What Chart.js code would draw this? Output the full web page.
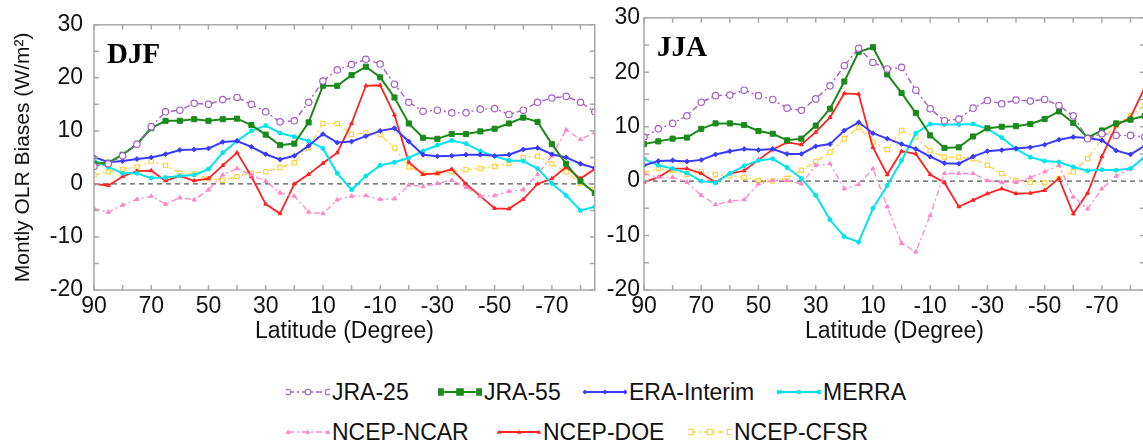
<!DOCTYPE html>
<html>
<head>
<meta charset="utf-8">
<script src="https://cdn.jsdelivr.net/npm/chart.js@4.4.1/dist/chart.umd.min.js"></script>
<style>
body { margin: 0; background: #fff; }
#wrap { position: relative; width: 1143px; height: 444px; overflow: hidden; font-family: "Liberation Sans", Arial, sans-serif; }
canvas { position: absolute; top: 0; }
#cDJF { left: 0; }
#cJJA { left: 560px; }
.item { position: absolute; height: 30px; display: flex; align-items: center; font-size: 23px; color: #111; white-space: nowrap; }
.item svg { margin-right: 2px; }
</style>
</head>
<body>
<div id="wrap">
  <canvas id="cDJF" width="600" height="350"></canvas>
  <canvas id="cJJA" width="590" height="350"></canvas>
</div>
<script>
// latitude bins, 90N -> 85S
const lats = [90, 85, 80, 75, 70, 65, 60, 55, 50, 45, 40, 35, 30, 25, 20, 15, 10, 5,
              0, -5, -10, -15, -20, -25, -30, -35, -40, -45, -50, -55, -60, -65, -70, -75, -80, -85];
const xTickLabels = [90, 70, 50, 30, 10, -10, -30, -50, -70];
const xTickMarks = [90, 80, 70, 60, 50, 40, 30, 20, 10, 0, -10, -20, -30, -40, -50, -60, -70, -80];
const yTickMarks = [-20, -15, -10, -5, 0, 5, 10, 15, 20, 25, 30];

// DJF
const jra25Djf = [3.3, 3.8, 5.3, 7.5, 10.8, 13.6, 13.9, 15.2, 15.0, 15.9, 16.3, 15.0, 13.6, 11.7, 11.9, 15.4, 19.4, 21.5,
                  22.5, 23.5, 22.6, 18.8, 15.4, 13.7, 13.9, 13.4, 13.4, 14.1, 14.2, 13.1, 13.9, 15.4, 16.2, 16.5, 15.4, 13.6];
const jra55Djf = [3.8, 4.0, 5.5, 7.5, 10.5, 11.9, 11.9, 12.2, 11.9, 12.2, 12.3, 11.1, 9.3, 7.3, 7.6, 11.6, 18.5, 18.5,
                  20.5, 22.1, 20.1, 16.3, 11.4, 8.7, 8.5, 9.4, 9.4, 9.9, 10.4, 11.4, 12.5, 11.7, 7.5, 3.8, 0.5, -1.7];
const eraDjf   = [5.1, 4.1, 4.3, 4.7, 5.0, 5.6, 6.4, 6.5, 6.7, 7.9, 8.1, 7.0, 5.6, 4.6, 5.3, 7.2, 9.4, 7.8,
                  8.0, 9.0, 10.0, 10.5, 8.0, 5.5, 5.2, 5.3, 5.5, 5.5, 5.3, 5.5, 6.5, 6.8, 5.6, 5.0, 3.8, 3.0];
const merraDjf = [4.5, 3.2, 2.0, 2.0, 1.1, 1.2, 1.5, 1.7, 2.8, 5.9, 8.1, 10.0, 11.0, 9.6, 8.9, 8.1, 6.7, 2.0,
                  -1.1, 1.5, 3.5, 4.1, 4.9, 6.2, 7.3, 8.2, 7.6, 6.2, 5.2, 4.4, 4.3, 2.9, 0.1, -2.2, -5.0, -4.3];
const ncarDjf  = [-4.6, -5.3, -4.0, -2.9, -2.3, -3.8, -2.6, -3.0, -1.1, 1.7, 2.9, 1.7, 0.5, -1.7, -2.3, -5.3, -5.6, -3.0,
                  -2.3, -2.2, -2.9, -2.8, -0.2, -0.5, 0.1, 0.7, -0.6, -2.3, -2.2, -1.4, -1.1, 1.8, 5.3, 10.2, 8.4, 9.7];
const doeDjf   = [0, -0.3, 1.4, 2.4, 2.5, 0.6, 1.5, 0.6, 1.0, 3.5, 5.9, 1.4, -3.8, -5.6, 0, 1.8, 3.9, 5.9,
                  11.4, 18.5, 18.6, 13.0, 4.1, 1.8, 2.0, 2.8, 0, -2.3, -4.6, -4.7, -2.9, 0, 1.0, 3.2, 1.0, 2.8];
const cfsrDjf  = [1.7, 2.3, 2.7, 3.2, 4.3, 3.5, 2.0, 1.9, 1.0, 0.7, 1.4, 2.0, 2.3, 3.1, 4.0, 6.8, 11.4, 11.4,
                  9.3, 9.6, 9.3, 6.8, 3.2, 2.0, 2.0, 2.3, 2.7, 2.9, 3.3, 3.9, 5.0, 5.2, 3.8, 2.3, 0.1, -1.1];

// JJA
const jra25Jja = [8.1, 9.6, 10.6, 12.0, 14.5, 15.7, 15.8, 16.7, 15.7, 15.0, 13.4, 13.0, 15.1, 17.5, 21.2, 24.4,
                  21.8, 20.6, 20.9, 16.7, 13.3, 11.1, 11.4, 13.4, 14.8, 14.2, 14.9, 14.7, 15.0, 13.9, 12.0, 7.8, 8.7, 8.4, 8.4, 8.1];
const jra55Jja = [6.8, 7.3, 7.8, 8.0, 9.6, 10.6, 10.6, 10.3, 9.2, 8.7, 7.5, 7.8, 10.2, 13.3, 18.3, 23.7,
                  24.6, 19.6, 16.2, 12.5, 8.4, 6.1, 6.2, 8.2, 9.7, 10.0, 10.1, 10.5, 11.4, 12.8, 10.7, 8.0, 9.3, 10.6, 11.3, 12.0];
const eraJja   = [2.9, 3.7, 3.8, 3.6, 3.9, 4.9, 5.5, 5.9, 5.7, 5.9, 5.0, 5.0, 6.4, 6.8, 9.3, 10.8,
                  8.8, 7.8, 6.8, 5.9, 4.5, 3.3, 3.2, 4.5, 5.5, 5.7, 6.0, 6.2, 6.7, 7.6, 8.1, 7.9, 7.5, 5.6, 4.9, 6.5];
const merraJja = [4.1, 2.9, 2.3, 1.5, 0, -0.3, 1.4, 2.8, 3.8, 4.1, 2.5, 0.5, -2.6, -7.1, -10.2, -11.2,
                  -5.0, -0.8, 3.8, 8.8, 10.5, 10.4, 10.4, 10.5, 9.6, 8.0, 5.9, 4.4, 3.7, 3.5, 2.6, 1.9, 2.1, 2.0, 2.3, 4.4];
const ncarJja  = [1.4, 0.7, 0.7, -0.2, -2.6, -4.3, -3.7, -3.4, -0.5, 0.1, 0.1, -0.5, 2.9, 3.2, -1.4, -0.6,
                  2.3, -4.7, -11.4, -13.0, -6.3, 1.4, 1.4, 1.4, 0.1, -0.2, -0.2, 0.7, 1.7, 2.9, -2.9, -5.1, -1.4, 0.9, 2.3, 4.7];
const doeJja   = [-0.2, 0.7, 2.3, 2.3, 1.4, -0.2, 1.4, 1.9, 3.9, 5.8, 7.1, 6.7, 9.0, 11.7, 16.1, 16.0,
                  6.2, 1.2, 5.5, 5.0, 1.2, -0.3, -4.7, -3.5, -2.3, -1.4, -2.3, -2.2, -1.7, 0.5, -6.0, -2.2, 4.5, 10.2, 11.7, 17.2];
const cfsrJja  = [1.5, 2.3, 2.0, 1.2, 1.7, 1.2, 1.0, 0.7, 0.1, 0, 0.5, 2.0, 3.6, 5.3, 7.8, 9.9,
                  7.2, 5.8, 9.3, 8.1, 5.6, 4.4, 4.4, 4.1, 2.9, 1.4, 0.1, -0.2, -0.3, 0.5, 1.7, 4.1, 7.8, 10.2, 12.0, 13.9];

const dashDot = [6, 3, 2, 3];
const series = [
  { name: 'JRA-25',      color: '#a45fc6', dash: dashDot, shape: 'circle',   r: 3.2, open: true,  w: 1.4, djf: jra25Djf, jja: jra25Jja },
  { name: 'JRA-55',      color: '#1b8a1b', dash: [],      shape: 'rect',     r: 3.6, open: false, w: 2,   djf: jra55Djf, jja: jra55Jja },
  { name: 'ERA-Interim', color: '#3b3bff', dash: [],      shape: 'rectRot',  r: 2.4, open: false, w: 2,   djf: eraDjf,   jja: eraJja },
  { name: 'MERRA',       color: '#00e4ee', dash: [],      shape: 'circle',   r: 2,   open: false, w: 2,   djf: merraDjf, jja: merraJja },
  { name: 'NCEP-NCAR',   color: '#ff86c8', dash: dashDot, shape: 'triangle', r: 2.4, open: false, w: 1.3, djf: ncarDjf,  jja: ncarJja },
  { name: 'NCEP-DOE',    color: '#ff2222', dash: [],      shape: 'triangle', r: 2.2, open: false, w: 1.8, djf: doeDjf,   jja: doeJja },
  { name: 'NCEP-CFSR',   color: '#ffd24a', dash: dashDot, shape: 'rect',     r: 3,   open: true,  w: 1.4, djf: cfsrDjf,  jja: cfsrJja }
];

const FONT = '"Liberation Sans", Arial, sans-serif';

// frame, inward tick marks, dashed zero line, panel label
const frame = {
  id: 'frame',
  beforeDatasetsDraw(chart) {
    const { ctx, chartArea: a, scales: { y } } = chart;
    const y0 = y.getPixelForValue(0);
    ctx.save();
    ctx.strokeStyle = '#555';
    ctx.lineWidth = 1.2;
    ctx.setLineDash([5, 4]);
    ctx.beginPath();
    ctx.moveTo(a.left, y0);
    ctx.lineTo(a.right, y0);
    ctx.stroke();
    ctx.restore();
  },
  afterDraw(chart, args, opts) {
    const { ctx, chartArea: a, scales: { x, y } } = chart;
    ctx.save();
    ctx.strokeStyle = '#a8a8a8';
    ctx.lineWidth = 1.5;
    ctx.strokeRect(a.left, a.top, a.right - a.left, a.bottom - a.top);
    ctx.beginPath();
    xTickMarks.forEach(v => {
      const px = x.getPixelForValue(v);
      ctx.moveTo(px, a.bottom); ctx.lineTo(px, a.bottom - 5);
      ctx.moveTo(px, a.top); ctx.lineTo(px, a.top + 5);
    });
    yTickMarks.forEach(v => {
      const py = y.getPixelForValue(v);
      ctx.moveTo(a.left, py); ctx.lineTo(a.left + 5, py);
      ctx.moveTo(a.right, py); ctx.lineTo(a.right - 5, py);
    });
    ctx.stroke();
    ctx.fillStyle = '#000';
    ctx.font = 'bold 29px "Liberation Serif", serif';
    ctx.fillText(opts.label, a.left + 13, a.top + 38);
    ctx.restore();
  }
};

function makeChart(id, label, key, yWidth, yPad, showTitle) {
  const datasets = series.map(s => ({
    label: s.name,
    data: lats.map((lat, i) => ({ x: lat, y: s[key][i] })),
    borderColor: s.color,
    borderWidth: s.w,
    borderDash: s.dash,
    pointStyle: s.shape,
    pointRadius: s.r,
    pointBorderWidth: s.open ? 1.2 : 1,
    pointBorderColor: s.color,
    pointBackgroundColor: s.open ? '#fff' : s.color,
    tension: 0,
    fill: false
  }));
  return new Chart(document.getElementById(id), {
    type: 'line',
    data: { datasets },
    plugins: [frame],
    options: {
      responsive: false,
      animation: false,
      devicePixelRatio: 1,
      layout: { padding: { top: 17, right: 5, left: 0, bottom: 0 } },
      plugins: {
        legend: { display: false },
        tooltip: { enabled: false },
        frame: { label }
      },
      scales: {
        x: {
          type: 'linear',
          min: -85, max: 90,
          reverse: true,
          afterBuildTicks: sc => { sc.ticks = xTickLabels.map(v => ({ value: v })); },
          afterFit: sc => { sc.height = 60; },
          grid: { display: false, drawTicks: false },
          border: { display: false },
          ticks: { color: '#111', font: { family: FONT, size: 23 }, padding: 3, maxRotation: 0, autoSkip: false },
          title: { display: true, text: 'Latitude (Degree)', color: '#111', font: { family: FONT, size: 23 },
                   padding: { top: 0, bottom: 5 } }
        },
        y: {
          min: -20, max: 30,
          afterFit: sc => { sc.width = yWidth; },
          grid: { display: false, drawTicks: false },
          border: { display: false },
          ticks: { stepSize: 10, color: '#111', font: { family: FONT, size: 23 }, padding: yPad },
          title: { display: showTitle, text: 'Montly OLR Biases (W/m²)', color: '#111',
                   font: { family: FONT, size: 21 }, padding: { top: 11, bottom: 0 } }
        }
      }
    }
  });
}

makeChart('cDJF', 'DJF', 'djf', 94, 11, true);
makeChart('cJJA', 'JJA', 'jja', 84, 4, false);

// legend: line with three markers, then text
const legendPos = [[286, 377], [438, 377], [583, 377], [777, 377], [286, 417], [497, 417], [688, 417]];
function glyph(s) {
  const W = 44, cy = 6;
  let m = '';
  [2, 22, 42].forEach(cx => {
    const fill = s.open ? '#fff' : s.color;
    const r = Math.max(s.r - 0.4, 1.8);
    if (s.shape === 'circle') m += `<circle cx="${cx}" cy="${cy}" r="${r}" fill="${fill}" stroke="${s.color}" stroke-width="1.1"/>`;
    else if (s.shape === 'rect') m += `<rect x="${cx - r}" y="${cy - r}" width="${2 * r}" height="${2 * r}" fill="${fill}" stroke="${s.color}" stroke-width="1.1"/>`;
    else if (s.shape === 'rectRot') m += `<polygon points="${cx},${cy - r - 0.6} ${cx + r + 0.6},${cy} ${cx},${cy + r + 0.6} ${cx - r - 0.6},${cy}" fill="${fill}"/>`;
    else m += `<polygon points="${cx},${cy - r - 0.5} ${cx + r + 0.5},${cy + r} ${cx - r - 0.5},${cy + r}" fill="${fill}"/>`;
  });
  return `<svg width="${W}" height="12"><line x1="2" y1="${cy}" x2="42" y2="${cy}" stroke="${s.color}" stroke-width="${s.w}" stroke-dasharray="${s.dash.join(' ')}"/>${m}</svg>`;
}
const wrap = document.getElementById('wrap');
series.forEach((s, i) => {
  const d = document.createElement('div');
  d.className = 'item';
  d.style.left = legendPos[i][0] + 'px';
  d.style.top = legendPos[i][1] + 'px';
  d.innerHTML = glyph(s) + '<span>' + s.name + '</span>';
  wrap.appendChild(d);
});
</script>
</body>
</html>
